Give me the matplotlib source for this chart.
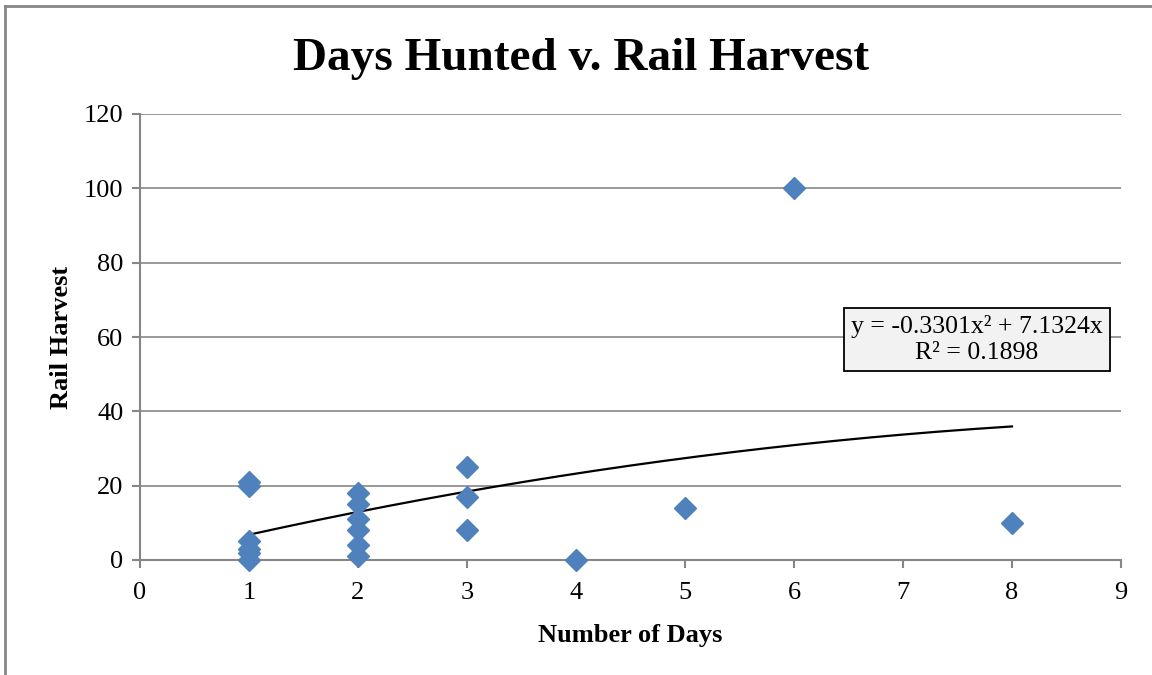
"""Days hunted versus rail harvest scatter with quadratic trendline."""

import matplotlib.pyplot as plt
import numpy as np
from matplotlib.lines import Line2D

plt.rcParams["font.family"] = ["Liberation Serif", "DejaVu Serif"]

# data
days = [1, 1, 1, 1, 1, 1, 2, 2, 2, 2, 2, 2, 3, 3, 3, 4, 5, 6, 8]
harvest = [21, 20, 5, 3, 2, 0, 18, 15, 11, 8, 4, 1, 25, 17, 8, 0, 14, 100, 10]

# trendline coefficients shown on the chart (y = a*x^2 + b*x)
trend_coef = [-0.3301, 7.1324, 0.0]
trend_label = "y = -0.3301x² + 7.1324x\nR² = 0.1898"

x_ticks = list(range(0, 10))
y_ticks = list(range(0, 121, 20))

GRID = "#868686"
MARKER = "#4F81BD"


def main() -> None:
    fig = plt.figure(figsize=(11.52, 6.75), dpi=100)

    # outer chart border (only left and top edges visible)
    fig.add_artist(Line2D([5 / 1152, 5 / 1152], [0, 1 - 6 / 675],
                          color=GRID, lw=2, transform=fig.transFigure))
    fig.add_artist(Line2D([5 / 1152, 1], [1 - 6 / 675, 1 - 6 / 675],
                          color=GRID, lw=2, transform=fig.transFigure))

    ax = fig.add_axes([140 / 1152, 1 - 560 / 675, 981 / 1152, 446 / 675])

    ax.set_axisbelow(True)
    ax.grid(axis="y", color=GRID, lw=1.2)

    trend_x = np.linspace(min(days), max(days), 200)
    trend_y = np.polyval(trend_coef, trend_x)
    ax.plot(trend_x, trend_y, color="black", lw=1.6, zorder=2)

    ax.plot(days, harvest, linestyle="none", marker="D", markersize=11,
            color=MARKER, zorder=3, clip_on=False)

    ax.set_xlim(0, 9)
    ax.set_ylim(0, 120)
    ax.set_xticks(x_ticks)
    ax.set_yticks(y_ticks)

    for side in ("top", "right"):
        ax.spines[side].set_visible(False)
    for side in ("left", "bottom"):
        ax.spines[side].set_color(GRID)
        ax.spines[side].set_linewidth(1.5)

    ax.tick_params(direction="out", length=6, width=1.5, color=GRID,
                   labelsize=19)
    ax.tick_params(axis="x", pad=10)
    ax.tick_params(axis="y", pad=6)

    fig.text(581 / 1152, 1 - 59 / 675, "Days Hunted v. Rail Harvest",
             fontsize=34, fontweight="bold", ha="center", va="center")
    ax.set_xlabel("Number of Days", fontsize=19, fontweight="bold", labelpad=14)
    ax.set_ylabel("Rail Harvest", fontsize=19, fontweight="bold", labelpad=8)

    ax.text(7.68, 59.3, trend_label, fontsize=18.5, ha="center", va="center",
            linespacing=1.2,
            bbox=dict(boxstyle="square,pad=0.28", facecolor="#F2F2F2",
                      edgecolor="black", lw=1.3))

    plt.savefig("out.png", dpi=100)
    plt.close()


if __name__ == "__main__":
    main()
